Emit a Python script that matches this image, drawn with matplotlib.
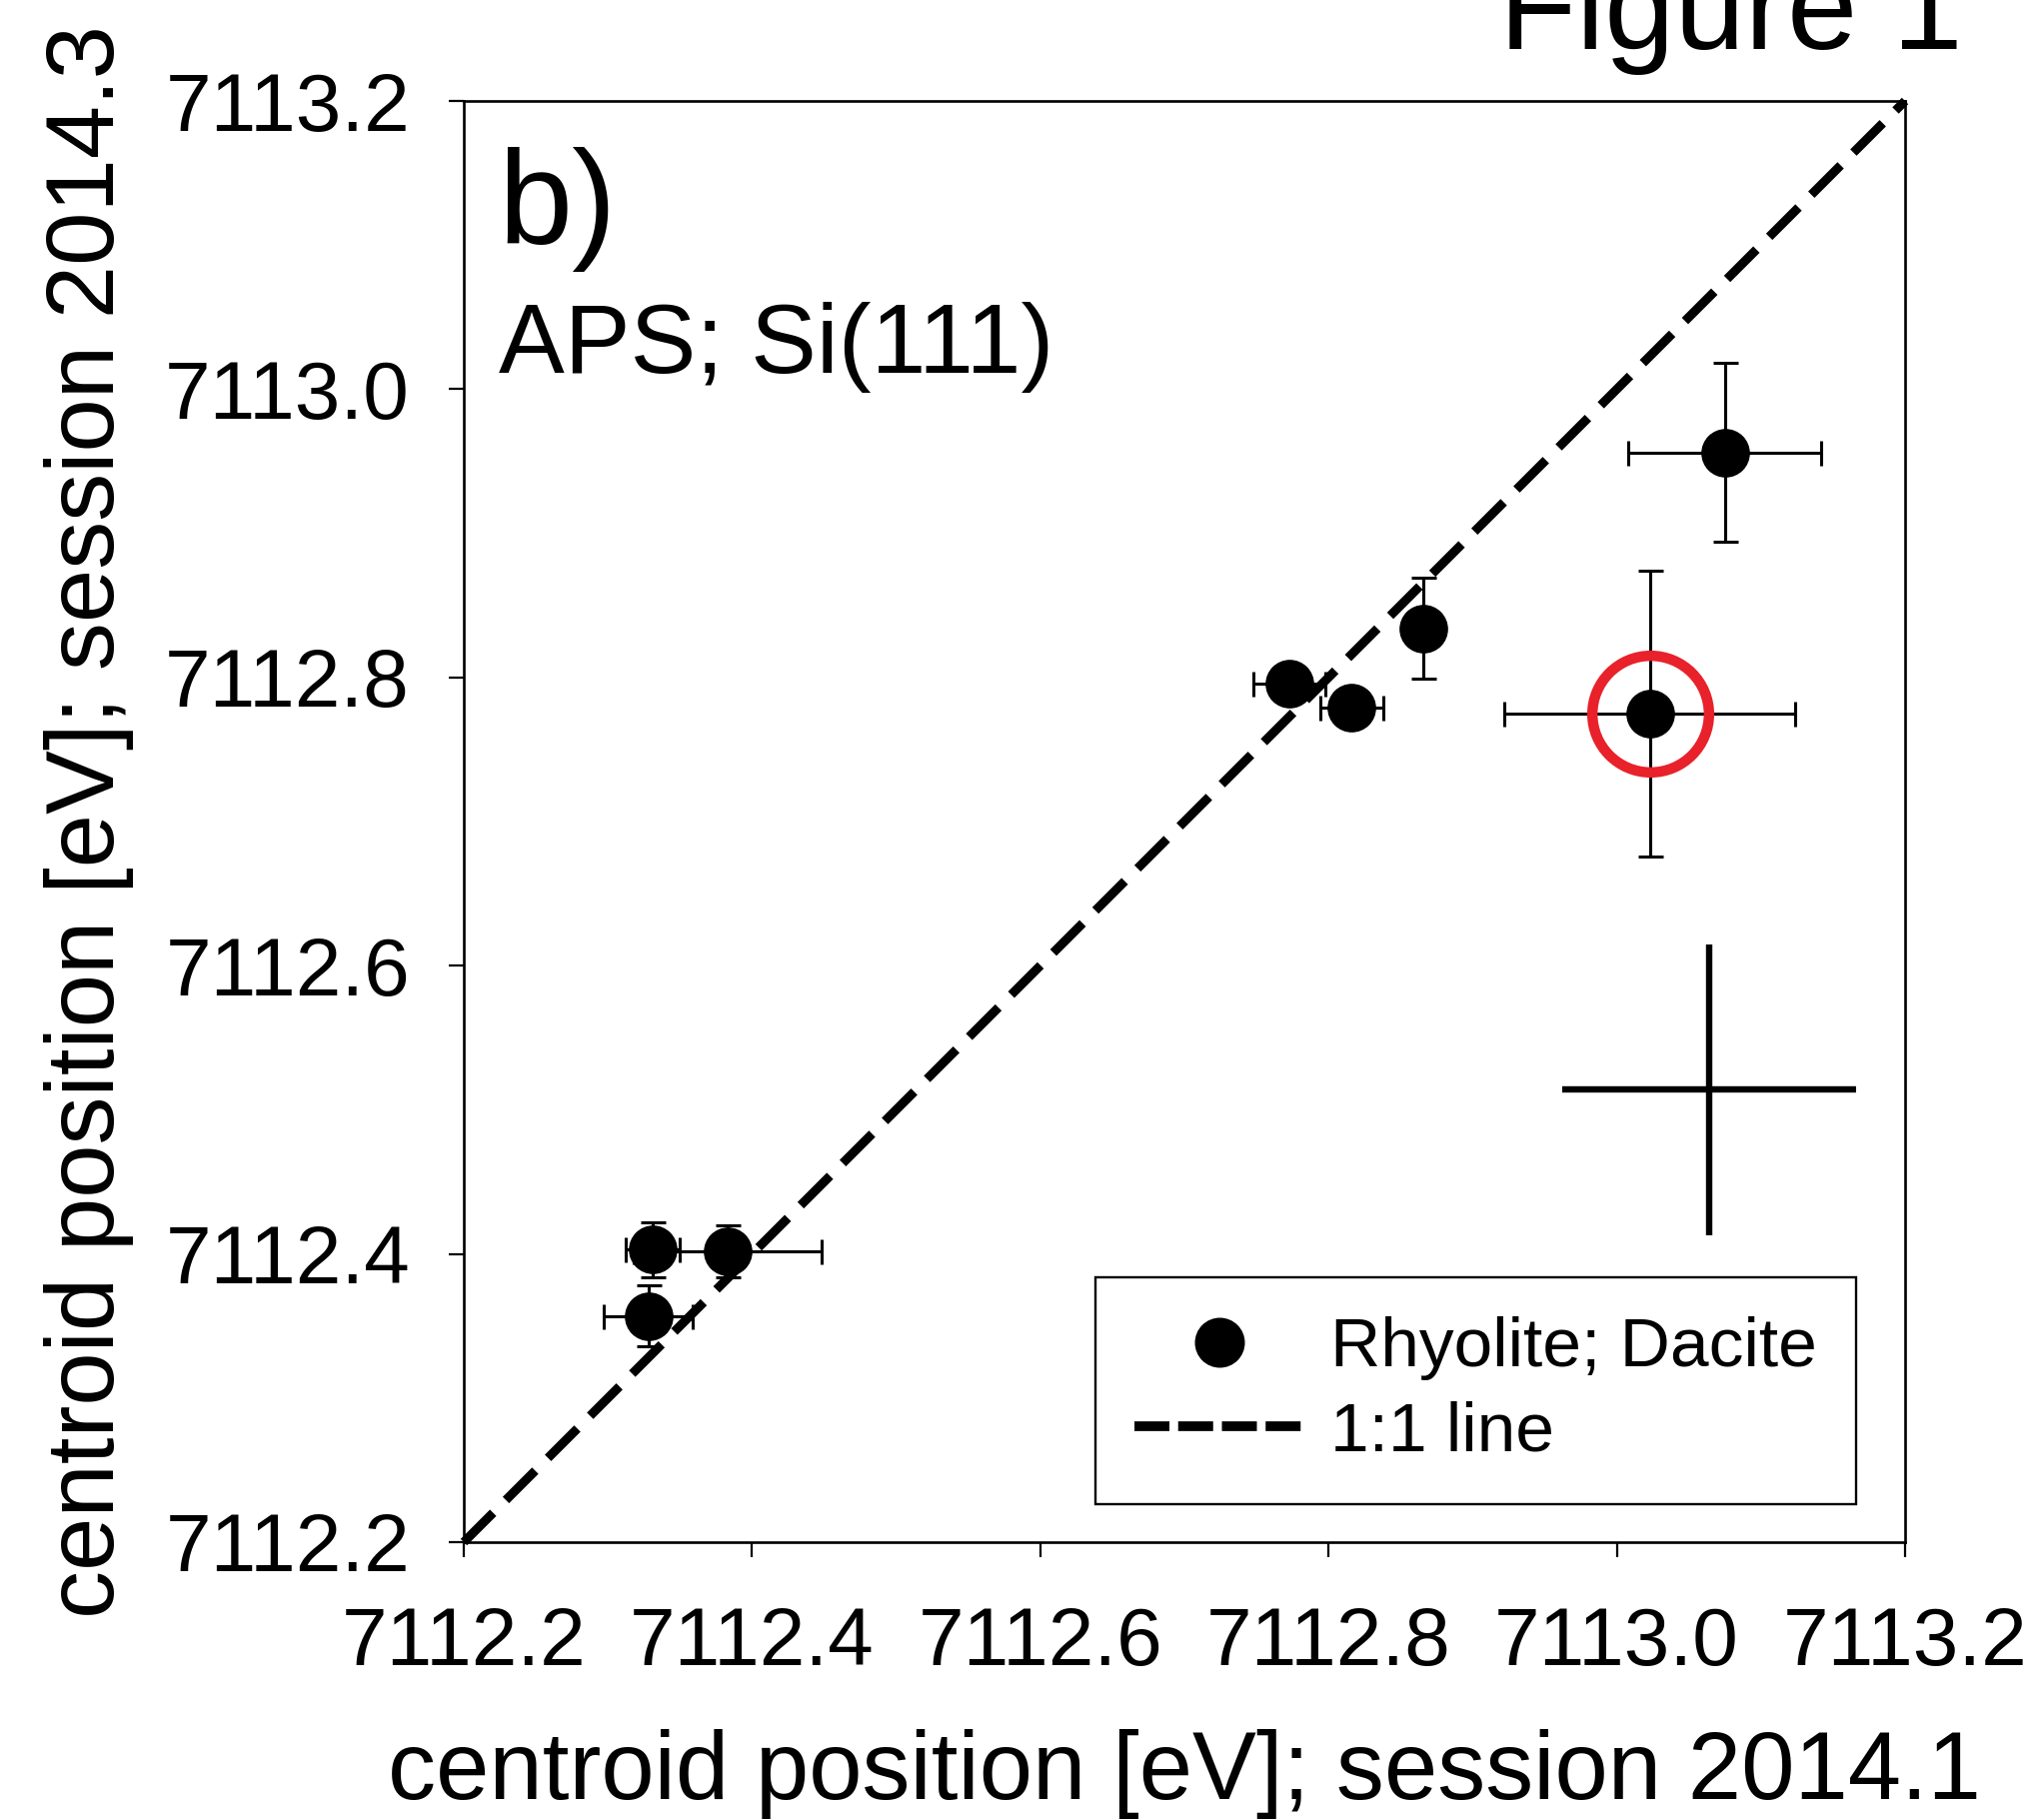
import matplotlib
matplotlib.use("Agg")
import matplotlib.pyplot as plt
from matplotlib.lines import Line2D

plt.rcParams['font.family'] = ['Liberation Sans', 'DejaVu Sans']

# ---- data ----
x_2014_1 = [7113.075, 7113.023, 7112.866, 7112.773, 7112.816, 7112.331, 7112.383, 7112.328]
y_2014_3 = [7112.956, 7112.775, 7112.834, 7112.796, 7112.779, 7112.403, 7112.402, 7112.357]
x_err = [0.067, 0.101, 0.010, 0.025, 0.022, 0.0185, 0.065, 0.031]
y_err = [0.062, 0.099, 0.035, 0.010, 0.010, 0.019, 0.018, 0.021]
highlight_index = 1

typical_x = [7113.064]
typical_y = [7112.514]
typical_xerr = [0.102]
typical_yerr = [0.101]

one_to_one = [7112.2, 7113.2]
ticks = [7112.2, 7112.4, 7112.6, 7112.8, 7113.0, 7113.2]
tick_labels = ['7112.2', '7112.4', '7112.6', '7112.8', '7113.0', '7113.2']

W, H = 2037, 1821
fig = plt.figure(figsize=(W / 100, H / 100), dpi=100)
ax = fig.add_axes([464 / W, 1 - 1543 / H, 1442 / W, 1442 / H])

# 1:1 line
ax.plot(one_to_one, one_to_one, color='black', lw=6.5, dashes=(4.6, 2.0),
        dash_capstyle='butt', clip_on=False, zorder=3)

# data with error bars
ax.errorbar(x_2014_1, y_2014_3, xerr=x_err, yerr=y_err, fmt='o', color='black',
            ms=34, elinewidth=2.2, capsize=9, capthick=2.2, zorder=2)

# highlighted point
ax.plot([x_2014_1[highlight_index]], [y_2014_3[highlight_index]], 'o', ms=84,
        mfc='none', mec='#e8212a', mew=7.5, zorder=4)

# typical uncertainty cross
ax.errorbar(typical_x, typical_y, xerr=typical_xerr, yerr=typical_yerr, fmt='none',
            ecolor='black', elinewidth=4.6, capsize=0, zorder=2)

ax.set_xlim(7112.2, 7113.2)
ax.set_ylim(7112.2, 7113.2)
ax.set_xticks(ticks)
ax.set_xticklabels(tick_labels)
ax.set_yticks(ticks)
ax.set_yticklabels(tick_labels)

for s in ax.spines.values():
    s.set_linewidth(1.9)
ax.tick_params(axis='both', direction='out', length=10.8, width=1.6, labelsize=59,
               top=False, right=False)
ax.tick_params(axis='x', pad=35)
ax.tick_params(axis='y', pad=28)

ax.set_xlabel('centroid position [eV]; session 2014.1', fontsize=69, va='baseline')
ax.xaxis.set_label_coords(0.5, (1543 - 1800) / 1442)
ax.set_ylabel('centroid position [eV]; session 2014.3', fontsize=69, va='baseline')
ax.yaxis.set_label_coords((114 - 464) / 1442, 0.5)

ax.text(0.024, 0.9008, 'b)', transform=ax.transAxes, fontsize=96,
        ha='left', va='baseline')
ax.text(0.024, 0.8114, 'APS; Si(111)', transform=ax.transAxes, fontsize=71,
        ha='left', va='baseline')

fig.text(1500 / W, 1 - 49 / H, 'Figure 1', fontsize=91, ha='left', va='baseline')

h_pts = Line2D([], [], ls='none', marker='o', ms=35, color='black')
h_line = Line2D([], [], color='black', lw=7, dashes=(3.6, 0.9), dash_capstyle='butt')
leg = ax.legend([h_pts, h_line], ['Rhyolite; Dacite', '1:1 line'],
                loc='upper left', bbox_to_anchor=((1096 - 464) / 1442, (1543 - 1278) / 1442),
                borderaxespad=0, fontsize=50, frameon=True, fancybox=False,
                framealpha=1, edgecolor='black', handlelength=2.45,
                handletextpad=0.38, borderpad=0.56, labelspacing=0.3, numpoints=1)
leg.get_frame().set_linewidth(1.7)

fig.savefig('out.png', dpi=100, facecolor='white')
